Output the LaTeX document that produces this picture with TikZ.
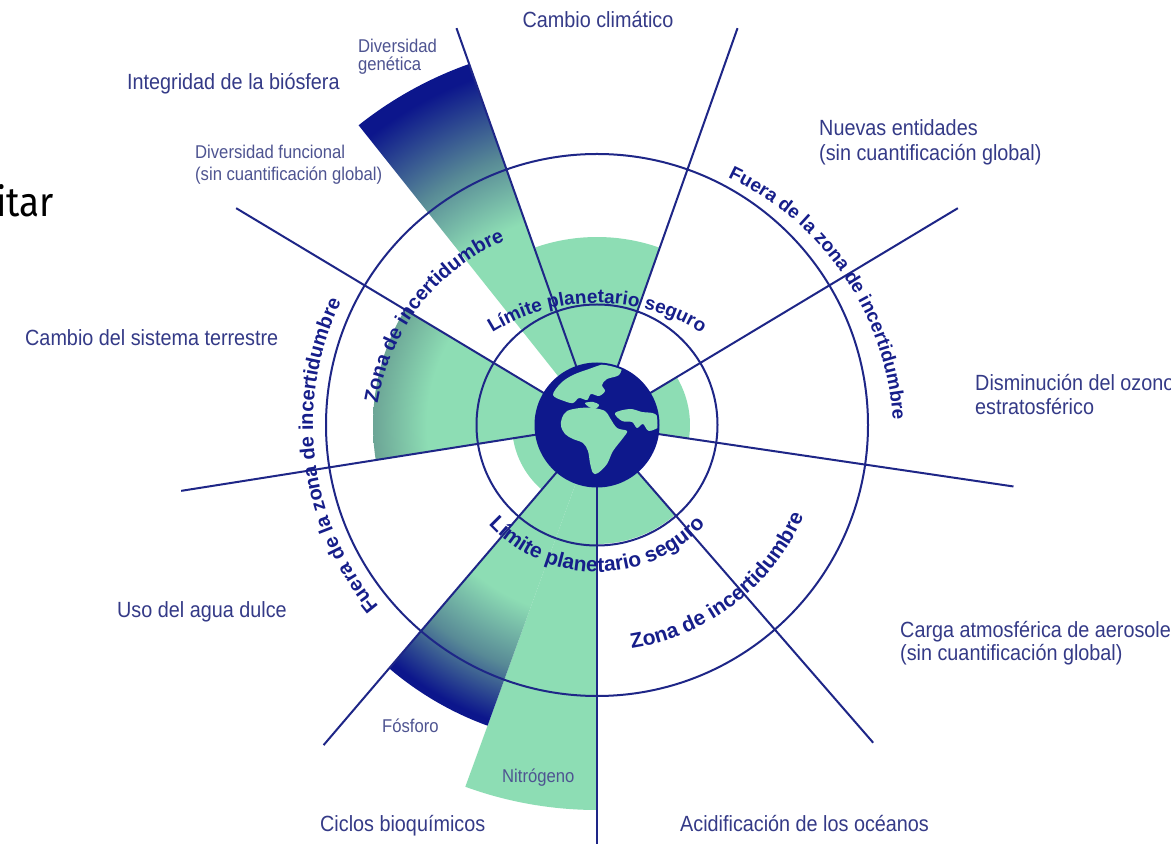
\documentclass[tikz,border=0pt]{standalone}
\usepackage{fontspec}
\setmainfont{Liberation Sans}
\newfontfamily\condfont{Liberation Sans}[FakeStretch=0.9]
\newfontfamily\slidefont{Fira Sans}[FakeStretch=0.9]
\usetikzlibrary{calc,decorations.text}

\definecolor{leaf}{RGB}{141,221,180}
\definecolor{navyline}{RGB}{30,38,135}
\definecolor{globenavy}{RGB}{14,24,140}
\definecolor{deepnavy}{RGB}{12,22,140}
\definecolor{labelnavy}{RGB}{52,58,135}
\definecolor{smallnavy}{RGB}{78,84,145}
\definecolor{curvenavy}{RGB}{22,30,138}
\definecolor{tealmid}{RGB}{88,138,150}
\definecolor{greyleaf}{RGB}{108,165,150}

% radial shadings: 25bp is mapped to the radius of the shaded circle
\pgfdeclareradialshading{genshade}{\pgfpointorigin}{color(0bp)=(leaf); color(14bp)=(leaf); color(18.5bp)=(tealmid); color(24bp)=(deepnavy); color(50bp)=(deepnavy)}
\pgfdeclareradialshading{phoshade}{\pgfpointorigin}{color(0bp)=(leaf); color(15bp)=(leaf); color(20bp)=(tealmid); color(24.5bp)=(deepnavy); color(50bp)=(deepnavy)}
\pgfdeclareradialshading{landshade}{\pgfpointorigin}{color(0bp)=(leaf); color(19bp)=(leaf); color(25bp)=(greyleaf); color(50bp)=(greyleaf)}

\newcommand{\curvefontsmall}{\fontsize{19}{20}\selectfont\bfseries}
\newcommand{\curvefont}{\fontsize{20}{21}\selectfont\bfseries}
\newcommand{\curvefontbig}{\fontsize{21}{22}\selectfont\bfseries}

\tikzset{
  lab/.style={font=\condfont\fontsize{22}{25}\selectfont, text=labelnavy, inner sep=0pt, anchor=base west},
  smalllab/.style={font=\condfont\fontsize{18.5}{21}\selectfont, text=smallnavy, inner sep=0pt, anchor=base west},
  spoke/.style={draw=navyline, line width=2pt},
  ring/.style={draw=navyline, line width=2pt},
  curvetextsmall/.style={decorate, decoration={text along path, text align=center, text color=curvenavy, text={|\curvefontsmall|#1}}},
  curvetext/.style={decorate, decoration={text along path, text align=center, text color=curvenavy, text={|\curvefont|#1}}},
  curvetextbig/.style={decorate, decoration={text along path, text align=center, text color=curvenavy, text={|\curvefontbig|#1}}}
}

\begin{document}
\begin{tikzpicture}[x=1pt,y=1pt]
\useasboundingbox (0,0) rectangle (1171,844);
\fill[white] (0,0) rectangle (1171,844);
\coordinate (C) at (597,419);

% green sectors
\fill[leaf] (C) -- ($(C)+(70.5:188)$) arc[start angle=70.5,end angle=109.5,radius=188] -- cycle;
\fill[leaf] (C) -- ($(C)+(189:85)$) arc[start angle=189,end angle=229.5,radius=85] -- cycle;
\fill[leaf] (C) -- ($(C)+(250:385)$) arc[start angle=250,end angle=270,radius=385] -- cycle;
\fill[leaf] (C) -- ($(C)+(270:119)$) arc[start angle=270,end angle=311,radius=119] -- cycle;
\fill[leaf] (C) -- ($(C)+(-8.4:93)$) arc[start angle=-8.4,end angle=31,radius=93] -- cycle;
\begin{scope}
  \clip (C) -- ($(C)+(149:224)$) arc[start angle=149,end angle=189,radius=224] -- cycle;
  \shade[shading=landshade] (C) circle[radius=224];
\end{scope}
\begin{scope}
  \clip (C) -- ($(C)+(109.5:383)$) arc[start angle=109.5,end angle=128.5,radius=383] -- cycle;
  \shade[shading=genshade] (C) circle[radius=383];
\end{scope}
\begin{scope}
  \clip (C) -- ($(C)+(229.5:320)$) arc[start angle=229.5,end angle=250,radius=320] -- cycle;
  \shade[shading=phoshade] (C) circle[radius=320];
\end{scope}

% rings
\draw[ring] (C) circle[radius=120.5];
\draw[ring] (C) circle[radius=271];

% spokes
\foreach \a/\n in {270/s1, 311/s2, 351.6/s3, 31/s4, 70.5/s5, 109.5/s6, 149/s7, 189/s8, 229.5/s9}{
  \coordinate (\n in) at ($(C)+(\a:60)$);
  \coordinate (\n out) at ($(C)+(\a:421)$);
  \draw[spoke] (\n in) -- (\n out);
}

% globe
\fill[globenavy] (C) circle[radius=62.5];
\begin{scope}
  \clip (C) circle[radius=60.5];
  \begin{scope}[shift={(C)}]
    \fill[leaf] plot[smooth cycle, tension=0.55] coordinates {(-44,30) (-36,42) (-24,50) (-8,56) (8,61) (24,60) (22,50) (10,46) (5,40) (8,34) (2,29) (-6,31) (-10,25) (-18,27) (-24,22) (-33,24)};
    \fill[leaf] plot[smooth cycle, tension=0.55] coordinates {(-36,-1) (-35,7) (-30,14) (-17,17) (-4,17) (8,14) (13,7) (20,-3) (30,-6) (26,-13) (16,-26) (10,-39) (1,-48) (-4,-48) (-7,-38) (-9,-26) (-14,-18) (-24,-14) (-32,-9)};
    \fill[leaf] plot[smooth cycle, tension=0.55] coordinates {(18,12) (33,16) (45,13) (58,11) (64,0) (52,-6) (46,1) (40,-3) (35,3) (25,4)};
    \fill[leaf] plot[smooth cycle, tension=0.55] coordinates {(-12,22) (-4,23) (2,20) (-2,16) (-8,18)};
  \end{scope}
\end{scope}

% curved texts
\coordinate (Ctop) at ($(C)+(0,-76)$);
\path[curvetextsmall={Límite planetario seguro}] ($(Ctop)+(125:198)$) arc[start angle=125,end angle=55,radius=198];
\path[curvetextbig={Límite planetario seguro}] ($(C)+(215:147)$) arc[start angle=215,end angle=325,radius=147];
\path[curvetextbig={Zona de incertidumbre}] ($(C)+(-95:226)$) arc[start angle=-95,end angle=-10,radius=226];
\path[curvetext={Fuera de la zona de incertidumbre}] ($(C)+(235:284)$) arc[start angle=235,end angle=139,radius=284];
\begin{scope}[shift={(C)}]
  \path[curvetext={Zona de incertidumbre}] plot[domain=185:105, samples=161, variable=\t] ({(220-(173-\t)*14/56.4)*cos(\t)}, {(220-(173-\t)*14/56.4)*sin(\t)});
  \path[curvetextsmall={Fuera de la zona de incertidumbre}] plot[domain=77:-13, samples=181, variable=\t] ({(280+(62-\t)*17/65)*cos(\t)}, {(280+(62-\t)*17/65)*sin(\t)});
\end{scope}

% labels
\node[lab, anchor=base] (cc) at (598,816) {Cambio climático};
\node[lab] (ib) at (127,754) {Integridad de la biósfera};
\node[smalllab] (dg1) at (358,791) {Diversidad};
\node[smalllab] (dg2) at (358,773) {genética};
\node[smalllab] (df1) at (195,685) {Diversidad funcional};
\node[smalllab] (df2) at (195,663) {(sin cuantificación global)};
\node[lab] (cst) at (25,498) {Cambio del sistema terrestre};
\node[lab] (ne1) at (819,708) {Nuevas entidades};
\node[lab] (ne2) at (819,683) {(sin cuantificación global)};
\node[lab] (oz1) at (975,453) {Disminución del ozono};
\node[lab] (oz2) at (975,429) {estratosférico};
\node[lab] (ad) at (117,226) {Uso del agua dulce};
\node[lab] (ae1) at (900,206) {Carga atmosférica de aerosoles};
\node[lab] (ae2) at (900,183) {(sin cuantificación global)};
\node[smalllab] (fo) at (382,111) {Fósforo};
\node[smalllab] (ni) at (502,61) {Nitrógeno};
\node[lab] (cb) at (320,12) {Ciclos bioquímicos};
\node[lab] (ac) at (680,12) {Acidificación de los océanos};
\node[font=\slidefont\fontsize{41}{44}\selectfont, text=black, inner sep=0pt, anchor=base east] (itar) at (54,627) {itar};
\end{tikzpicture}
\end{document}
